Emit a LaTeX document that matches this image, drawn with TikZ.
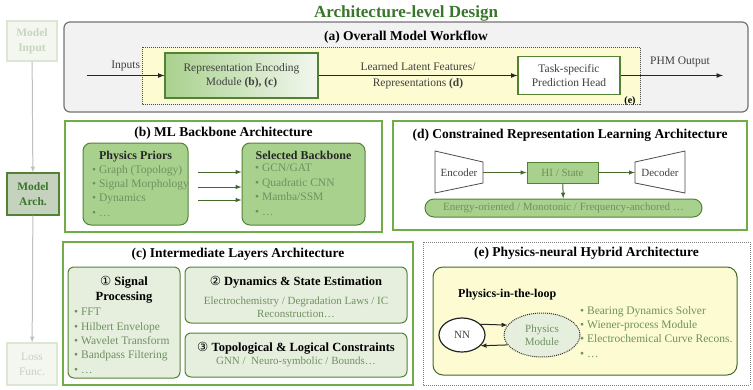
\documentclass[tikz,border=0pt]{standalone}
\usepackage{fontspec}
\setmainfont{Liberation Serif}
\newfontfamily\circfont{DejaVu Sans}
\usepackage{tikz}
\usetikzlibrary{arrows,shapes.geometric,positioning}

\definecolor{titlegreen}{HTML}{38762A}
\definecolor{framegreen}{HTML}{70AD47}
\definecolor{boxgreen}{HTML}{A9D18E}
\definecolor{edgegreen}{HTML}{548235}
\definecolor{palegreen}{HTML}{E6EFDE}
\definecolor{bulletgray}{HTML}{6F9160}
\definecolor{paleyellow}{HTML}{FCFBD2}
\definecolor{fadefill}{HTML}{F3F7F0}
\definecolor{fadeedge}{HTML}{DCE6D4}
\definecolor{fadetext}{HTML}{C8D6BE}

\begin{document}
\begin{tikzpicture}[
				x=1pt, y=-1pt,
				>=latex,
				frame/.style={draw=framegreen, line width=1.4pt},
				panel title/.style={font=\bfseries\fontsize{13.5}{15}\selectfont},
				sub title/.style={font=\bfseries\fontsize{12}{14.5}\selectfont, align=center},
				plain text/.style={font=\fontsize{11}{13}\selectfont, align=center, text=black!75},
				bullets/.style={font=\fontsize{11.5}{14.4}\selectfont, align=left, text=bulletgray, inner sep=0pt},
				green box/.style={draw=edgegreen, fill=boxgreen, line width=1pt, rounded corners=8pt},
				pale box/.style={draw=edgegreen, fill=palegreen, line width=1pt, rounded corners=6pt},
				stage/.style={draw=fadeedge, fill=fadefill, line width=1.2pt, minimum width=50pt,
					minimum height=40pt, align=center, text=fadetext, font=\bfseries\fontsize{11.5}{15}\selectfont},
				flow/.style={->, line width=1.2pt, black!85},
				link/.style={->, line width=1pt, edgegreen!80!black},
				fade/.style={->, line width=1pt, black!25}
				]
				
				\useasboundingbox (0,0) rectangle (753,389);
				
				\node[font=\bfseries\fontsize{17}{19}\selectfont, text=titlegreen] (title) at (406,13) {Architecture-level Design};
				
				% left column
				\node[stage] (input) at (32,41) {Model\\Input};
				\node[stage, draw=edgegreen, fill=boxgreen!55!gray!55, text=titlegreen, minimum width=52pt, minimum height=42pt] (arch) at (33,194) {Model\\Arch.};
				\node[stage, minimum height=42pt, text=black!20, font=\fontsize{11.5}{15}\selectfont] (loss) at (32,364) {Loss\\Func.};
				\draw[fade] (input) -- (arch);
				\draw[fade] (arch) -- (loss);
				
				% (a) workflow
				\draw[draw=black!55, fill=black!5, line width=1.2pt, rounded corners=6pt] (64,22) rectangle (748,112);
				\node[panel title] (atitle) at (406,37) {(a) Overall Model Workflow};
				\draw[draw=black!70, fill=paleyellow, line width=1pt, densely dotted] (142,47) rectangle (640,104);
				\node[draw=edgegreen, line width=1.2pt, left color=boxgreen, right color=palegreen!50, minimum width=153pt, minimum height=45pt, plain text, font=\fontsize{11.5}{14}\selectfont] (rem) at (241.5,75.5) {Representation Encoding\\Module \textbf{(b), (c)}};
				\node[draw=edgegreen, line width=1.2pt, fill=white, minimum width=102pt, minimum height=38pt, plain text, font=\fontsize{11.5}{14}\selectfont] (head) at (569,75.5) {Task-specific\\Prediction Head};
				\coordinate (inputs) at (87,75.5);
				\coordinate (output) at (723,75.5);
				\draw[flow] (inputs) -- node[above, plain text, font=\fontsize{11.5}{14}\selectfont, yshift=1pt] {Inputs} (rem);
				\draw[flow] (rem) -- node[font=\fontsize{11.5}{16}\selectfont, align=center, text=black!75] {Learned Latent Features/\\Representations \textbf{(d)}} (head);
				\draw[flow] (head) -- (output);
				\node[plain text, font=\fontsize{11.5}{14}\selectfont] (phm) at (680,62) {PHM Output};
				\node[font=\bfseries\fontsize{10}{12}\selectfont] (etag) at (630,101) {(e)};
				
				% (b) backbone
				\draw[frame] (65,121) rectangle (382,232);
				\node[panel title] (btitle) at (223.5,133) {(b) ML Backbone Architecture};
				\node[green box, minimum width=105pt, minimum height=82pt] (priors) at (135.5,184) {};
				\node[green box, minimum width=123pt, minimum height=82pt] (backbone) at (303.5,184) {};
				\node[sub title, text=black!85] at (135.5,157) {Physics Priors};
				\node[sub title, text=black!85] at (303.5,155) {Selected Backbone};
				\node[bullets, anchor=north west] (plist) at (92,165) {\textbullet\ Graph (Topology)\\\textbullet\ Signal Morphology\\\textbullet\ Dynamics\\\textbullet\ \dots};
				\node[bullets, anchor=north west] (blist) at (255,164) {\textbullet\ GCN/GAT\\\textbullet\ Quadratic CNN\\\textbullet\ Mamba/SSM\\\textbullet\ \dots};
				\foreach \y [count=\i] in {172,187,200}{
					\coordinate (p\i) at (198,\y);
					\draw[link] (p\i) -- (p\i -| backbone.west);
				}
				
				% (d) constrained representation
				\draw[frame] (393,121) rectangle (747,230);
				\node[panel title] (dtitle) at (570,135) {(d) Constrained Representation Learning Architecture};
				\draw[draw=black!70, fill=white, line width=0.8pt] (435,151) -- (483,162) -- (483,183) -- (435,193) -- cycle;
				\draw[draw=black!70, fill=white, line width=0.8pt] (635,162) -- (685,151) -- (685,193) -- (635,183) -- cycle;
				\node[plain text, minimum width=48pt, minimum height=21pt, inner sep=0pt] (encoder) at (459,172.5) {Encoder};
				\node[plain text, minimum width=50pt, minimum height=21pt, inner sep=0pt] (decoder) at (660,172.5) {Decoder};
				\node[draw=edgegreen, fill=boxgreen, line width=1pt, minimum width=71pt, minimum height=21pt, inner sep=0pt, font=\fontsize{11}{12}\selectfont, text=bulletgray] (state) at (562.5,172.5) {HI / State};
				\node[draw=edgegreen, fill=boxgreen, line width=1pt, rounded corners=9pt, minimum width=277pt, minimum height=18pt, inner sep=0pt, font=\fontsize{11}{12}\selectfont, text=bulletgray] (anchor) at (563.5,208) {Energy-oriented / Monotonic / Frequency-anchored \dots};
				\draw[link] (encoder) -- (state);
				\draw[link] (state) -- (decoder);
				\draw[link] (state) -- (anchor);
				
				% (c) intermediate layers
				\draw[frame] (63,242) rectangle (413,385);
				\node[panel title] (ctitle) at (238,254) {(c) Intermediate Layers Architecture};
				\node[pale box, minimum width=112pt, minimum height=111pt] (signal) at (124,322.5) {};
				\node[pale box, minimum width=222pt, minimum height=56pt] (dyn) at (296,295) {};
				\node[pale box, minimum width=222pt, minimum height=44pt] (topo) at (296,355) {};
				\node[sub title, font=\bfseries\fontsize{12.5}{15}\selectfont] at (124,289.5) {{\circfont\mdseries\char"2460}\ Signal\\Processing};
				\node[bullets, anchor=north west] (slist) at (74,308) {\textbullet\ FFT\\\textbullet\ Hilbert Envelope\\\textbullet\ Wavelet Transform\\\textbullet\ Bandpass Filtering\\\textbullet\ \dots};
				\node[sub title, font=\bfseries\fontsize{12.5}{15}\selectfont] at (296,282) {{\circfont\mdseries\char"2461}\ Dynamics \& State Estimation};
				\node[font=\fontsize{11}{12.5}\selectfont, align=center, text=bulletgray] at (296,307.5) {Electrochemistry / Degradation Laws / IC\\Reconstruction\dots};
				\node[sub title, font=\bfseries\fontsize{12.5}{15}\selectfont] at (296,348) {{\circfont\mdseries\char"2462}\ Topological \& Logical Constraints};
				\node[font=\fontsize{11}{12}\selectfont, text=bulletgray] at (296,362) {GNN /\ \ Neuro-symbolic / Bounds\dots};
				
				% (e) hybrid
				\draw[draw=black!50, line width=1pt, densely dotted] (423,242) rectangle (750,385);
				\node[panel title] (etitle) at (586.5,253) {(e) Physics-neural Hybrid Architecture};
				\draw[draw=edgegreen!80!black, fill=paleyellow, line width=1pt, rounded corners=10pt] (433,267) rectangle (737,375);
				\node[sub title, anchor=west, inner sep=0pt] (loop) at (458,295) {Physics-in-the-loop};
				\node[ellipse, draw=black!85, fill=white, line width=1.2pt, minimum width=46pt, minimum height=34pt, inner sep=0pt, plain text] (nn) at (462,335) {NN};
				\node[ellipse, draw=black!80, fill=palegreen, line width=1pt, densely dotted, minimum width=76pt, minimum height=44pt, inner sep=0pt, font=\fontsize{11}{13.5}\selectfont, align=center, text=bulletgray] (phys) at (542,335) {Physics\\Module};
				\draw[flow, line width=1pt] (nn.30) -- (phys.164);
				\draw[flow, line width=1pt] (phys.196) -- (nn.330);
				\node[bullets, anchor=north west] (elist) at (580,306) {\textbullet\ Bearing Dynamics Solver\\\textbullet\ Wiener-process Module\\\textbullet\ Electrochemical Curve Recons.\\\textbullet\ \dots};
				
			\end{tikzpicture}
\end{document}
